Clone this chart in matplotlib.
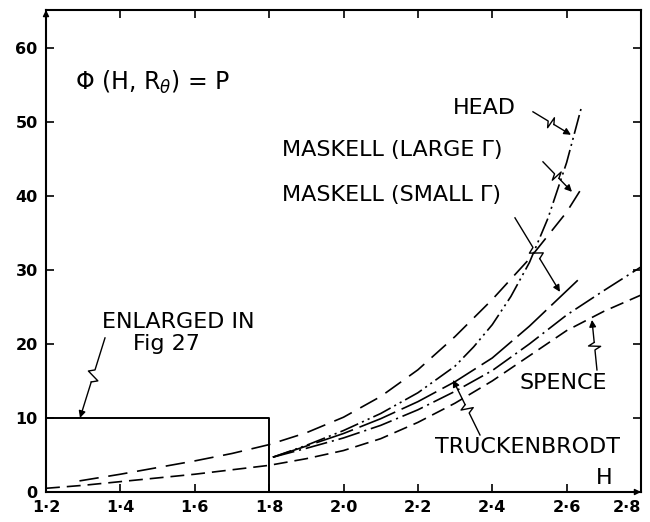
import numpy as np
import matplotlib
matplotlib.use("Agg")
import matplotlib.pyplot as plt

plt.rcParams['font.family'] = ['DejaVu Sans']
plt.rcParams['lines.scale_dashes'] = False

# shape factor H against P, one curve per method
h_maskell_large = [1.29, 1.4, 1.5, 1.6, 1.7, 1.8, 1.9, 2.0, 2.1, 2.2, 2.3, 2.4, 2.5, 2.6, 2.64]
p_maskell_large = [1.5, 2.4, 3.3, 4.2, 5.2, 6.4, 8.0, 10.1, 12.9, 16.5, 21.0, 26.0, 31.5, 37.8, 41.0]

h_head = [1.81, 1.9, 2.0, 2.1, 2.2, 2.3, 2.35, 2.4, 2.45, 2.5, 2.55, 2.6, 2.64]
p_head = [4.7, 6.3, 8.3, 10.6, 13.4, 17.0, 19.6, 22.6, 26.4, 31.0, 37.0, 44.5, 52.0]

h_maskell_small = [1.81, 1.9, 2.0, 2.1, 2.2, 2.3, 2.4, 2.5, 2.63]
p_maskell_small = [4.7, 6.2, 7.9, 9.9, 12.2, 14.9, 18.1, 22.4, 28.6]

h_truckenbrodt = [1.81, 1.9, 2.0, 2.1, 2.2, 2.3, 2.4, 2.5, 2.6, 2.7, 2.8]
p_truckenbrodt = [4.7, 5.9, 7.3, 9.0, 11.1, 13.6, 16.4, 20.0, 23.9, 27.2, 30.4]

h_spence = [1.2, 1.3, 1.4, 1.5, 1.6, 1.7, 1.8, 1.9, 2.0, 2.1, 2.2, 2.3, 2.4, 2.5, 2.6, 2.7, 2.8]
p_spence = [0.5, 0.9, 1.4, 1.9, 2.4, 3.0, 3.6, 4.5, 5.6, 7.2, 9.4, 12.0, 15.0, 18.4, 21.8, 24.4, 26.6]

x_ticks = [1.2, 1.4, 1.6, 1.8, 2.0, 2.2, 2.4, 2.6, 2.8]
x_tick_labels = ['1\u00b72', '1\u00b74', '1\u00b76', '1\u00b78', '2\u00b70', '2\u00b72', '2\u00b74', '2\u00b76', '2\u00b78']
y_ticks = [0, 10, 20, 30, 40, 50, 60]

fig = plt.figure(figsize=(6.5, 5.22), dpi=100)
ax = fig.add_axes([46 / 650, 30 / 522, 595 / 650, 482 / 522])
ax.set_xlim(1.2, 2.8)
ax.set_ylim(0, 65.1)

lw = 1.2
ax.plot(h_maskell_large, p_maskell_large, color='k', lw=lw, dashes=(14, 7))
ax.plot(h_head, p_head, color='k', lw=lw, dashes=(14, 3, 1.5, 3, 1.5, 3))
ax.plot(h_maskell_small, p_maskell_small, color='k', lw=lw, dashes=(28, 5))
ax.plot(h_truckenbrodt, p_truckenbrodt, color='k', lw=lw, dashes=(16, 3.5, 1.5, 3.5))
ax.plot(h_spence, p_spence, color='k', lw=lw, dashes=(10, 5))

# region shown enlarged in Fig 27
ax.plot([1.2, 1.8, 1.8], [10, 10, 0], color='k', lw=1.4)

ax.set_xticks(x_ticks)
ax.set_xticklabels(x_tick_labels, fontsize=11.5, fontweight='bold')
ax.get_xticklabels()[-1].set_ha('right')
ax.set_yticks(y_ticks)
ax.set_yticklabels([str(v) for v in y_ticks], fontsize=11.5, fontweight='bold')
ax.tick_params(direction='in', length=6, width=1.2, top=True, right=True,
               labeltop=False, labelright=False, pad=6)
for s in ax.spines.values():
    s.set_linewidth(1.5)


def px(x, y):
    return 1.2 + (x - 46) / 371.9, (492 - y) / 7.4


def leader(start, tip, zig=6):
    # drafting-style leader with a small zigzag, pixel coordinates
    x0, y0 = start
    x1, y1 = tip
    dx, dy = x1 - x0, y1 - y0
    n = np.hypot(dx, dy)
    ux, uy = dx / n, dy / n
    nx, ny = -uy, ux
    a = 0.4 * n
    b = 0.55 * n
    pts = [(x0, y0),
           (x0 + ux * a, y0 + uy * a),
           (x0 + ux * (a + 3) + nx * zig, y0 + uy * (a + 3) + ny * zig),
           (x0 + ux * (b - 3) - nx * zig, y0 + uy * (b - 3) - ny * zig),
           (x0 + ux * b, y0 + uy * b)]
    d = [px(*p) for p in pts]
    ax.plot([p[0] for p in d], [p[1] for p in d], color='k', lw=1.0)
    ax.annotate('', xy=px(x1, y1), xytext=d[-1],
                arrowprops=dict(arrowstyle='-|>', color='k', lw=1.0,
                                mutation_scale=10, shrinkA=0, shrinkB=0))


leader((105, 338), (80, 418))
leader((533, 112), (571, 135))
leader((543, 162), (572, 192))
leader((515, 218), (560, 292))
leader((597, 370), (592, 320))
leader((480, 435), (453, 380))

txt = dict(color='k', fontsize=16, va='center')
ax.text(*px(75, 83), r'$\Phi$ (H, R$_\theta$) = P', ha='left', fontsize=17,
        color='k', va='center')
ax.text(*px(484, 108), 'HEAD', ha='center', **txt)
ax.text(*px(282, 150), 'MASKELL (LARGE \u0393)', ha='left', **txt)
ax.text(*px(282, 195), 'MASKELL (SMALL \u0393)', ha='left', **txt)
ax.text(*px(102, 322), 'ENLARGED IN', ha='left', **txt)
ax.text(*px(133, 344), 'Fig 27', ha='left', **txt)
ax.text(*px(520, 383), 'SPENCE', ha='left', **txt)
ax.text(*px(435, 447), 'TRUCKENBRODT', ha='left', **txt)
ax.text(*px(604, 478), 'H', ha='center', **txt)

# axis end arrows
ax.annotate('', xy=(1.0, 0), xytext=(0.985, 0), xycoords='axes fraction',
            arrowprops=dict(arrowstyle='-|>', color='k', lw=1.0, mutation_scale=9,
                            shrinkA=0, shrinkB=0))
ax.annotate('', xy=(0, 1.0), xytext=(0, 0.985), xycoords='axes fraction',
            arrowprops=dict(arrowstyle='-|>', color='k', lw=1.0, mutation_scale=9,
                            shrinkA=0, shrinkB=0))

fig.savefig('out.png', dpi=100)
